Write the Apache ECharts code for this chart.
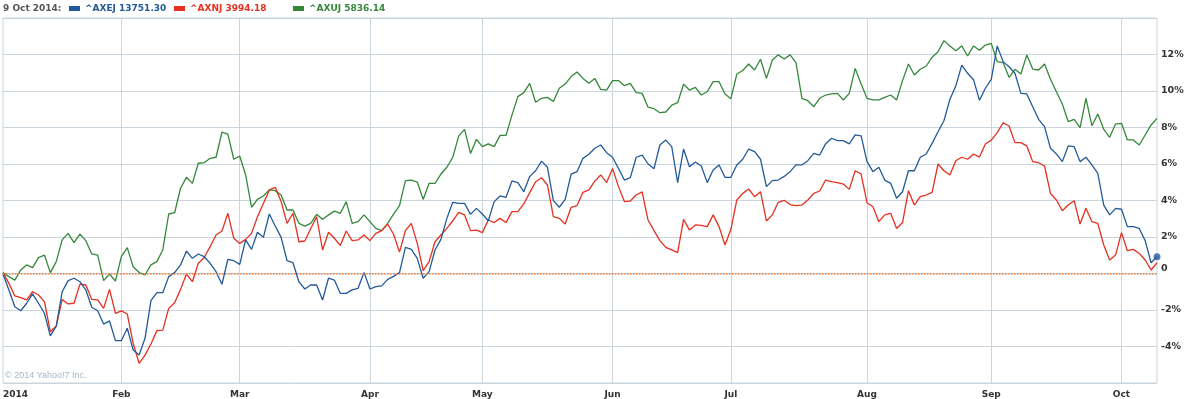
<!DOCTYPE html>
<html>
<head>
<meta charset="utf-8">
<script src="https://cdn.jsdelivr.net/npm/echarts@6/dist/echarts.min.js"></script>
<style>html,body{margin:0;padding:0;background:#fff}#c{width:1187px;height:399px}</style>
</head>
<body>
<div id="c"></div>
<script>
// Trading-day index of the first session of each month, and its label
const monthStart = [0, 20, 40, 62, 81, 103, 123, 146, 167, 189];
const monthLabels = ['2014', 'Feb', 'Mar', 'Apr', 'May', 'Jun', 'Jul', 'Aug', 'Sep', 'Oct'];
const yTicks = [-6, -4, -2, 0, 2, 4, 6, 8, 10, 12, 14];

const seriesNames = ['^AXEJ', '^AXNJ', '^AXUJ'];
const legendValues = ['13751.30', '3994.18', '5836.14'];
const legendDate = '9 Oct 2014:';

// % change since start of 2014
const axej = [-0.03,-0.90,-1.82,-2.04,-1.63,-1.12,-1.63,-2.18,-3.42,-2.88,-1.0,-0.39,-0.26,-0.45,-0.90,-1.85,-2.04,-2.77,-2.6,-3.68,
-3.68,-3.0,-4.19,-4.47,-3.55,-1.49,-1.05,-1.05,-0.17,0.05,0.47,1.23,0.83,1.07,0.92,0.56,0.10,-0.59,0.78,0.70,
0.50,1.84,1.32,2.26,1.98,3.26,2.60,1.98,0.70,0.59,-0.45,-0.85,-0.63,-0.63,-1.45,-0.26,-0.36,-1.09,-1.09,-0.90,
-0.81,0.06,-0.85,-0.72,-0.68,-0.32,-0.16,0.05,1.43,1.32,0.83,-0.26,0.10,1.29,1.87,3.02,3.90,3.84,3.84,3.24,
3.57,3.26,2.89,3.94,4.25,4.17,5.07,4.98,4.48,5.31,5.63,6.16,5.82,3.99,3.63,4.06,5.45,5.58,6.31,6.53,
6.86,7.04,6.62,6.37,5.76,5.12,5.25,6.37,6.49,6.00,5.74,7.04,7.31,6.95,4.98,6.82,5.85,6.11,5.89,4.98,
5.67,5.95,5.27,5.27,5.95,6.26,6.82,6.68,6.26,4.76,5.09,5.12,5.32,5.58,5.95,5.95,6.18,6.58,6.49,7.10,
7.41,7.28,7.28,7.10,7.59,7.54,6.13,5.58,5.82,5.12,4.94,4.12,4.48,5.63,5.63,6.37,6.55,7.13,7.77,8.37,
9.54,10.27,11.42,10.97,10.62,9.49,10.15,10.64,12.47,11.61,11.33,10.97,9.87,9.84,9.14,8.45,8.05,6.86,6.55,6.13,
6.99,6.95,6.13,6.37,5.95,5.49,3.75,3.21,3.57,3.52,2.57,2.57,2.47,1.80,0.59,0.92];

const axnj = [0.05,-0.54,-1.23,-1.32,-1.45,-1.0,-1.18,-1.54,-3.19,-2.88,-1.42,-1.67,-1.63,-0.58,-0.63,-1.42,-1.45,-1.91,-0.87,-2.18,
-2.05,-2.22,-3.83,-4.92,-4.47,-3.86,-3.13,-3.1,-1.91,-1.60,-0.87,-0.03,-0.45,0.56,0.88,1.47,2.11,2.33,3.30,1.93,
1.65,1.87,2.20,3.11,3.84,4.58,4.72,3.94,2.75,3.30,1.74,1.78,2.47,3.11,1.29,2.26,1.93,1.53,2.33,1.80,
1.84,2.11,1.80,2.20,2.35,2.71,2.15,1.17,2.35,2.75,1.65,0.16,0.65,1.74,2.11,2.47,2.89,3.35,3.21,2.35,
2.38,2.24,2.93,2.79,3.02,2.79,3.39,3.39,3.81,4.43,5.03,5.25,4.85,3.11,3.02,2.71,3.63,3.72,4.45,4.58,
5.06,5.40,4.98,5.76,4.76,3.94,3.97,4.30,4.47,2.93,2.35,1.80,1.43,1.29,1.14,2.97,2.38,2.66,2.64,2.57,
3.21,2.57,1.56,2.42,4.03,4.39,4.63,4.21,4.48,2.88,3.21,3.90,4.01,3.78,3.72,3.75,4.03,4.39,4.52,5.12,
5.03,4.98,4.90,4.61,5.63,5.45,3.88,3.66,2.84,3.21,3.30,2.47,2.79,4.54,3.75,4.21,4.30,4.45,6.00,5.63,
5.40,6.18,6.37,6.26,6.55,6.38,7.10,7.31,7.72,8.26,8.08,7.17,7.17,6.99,6.13,6.07,5.89,4.39,4.03,3.44,
3.75,3.99,2.71,3.57,2.84,2.75,1.56,0.74,1.01,2.24,1.25,1.32,1.10,0.74,0.19,0.59];

const axuj = [0.05,-0.17,-0.36,0.19,0.47,0.32,0.87,1.01,0.05,0.65,1.84,2.2,1.69,2.16,1.8,1.07,1.01,-0.39,-0.03,-0.41,
0.92,1.42,0.37,0.05,-0.08,0.47,0.65,1.29,3.26,3.33,4.67,5.27,4.94,6.04,6.07,6.31,6.37,7.74,7.64,6.26,
6.44,5.4,3.63,4.06,4.25,4.58,4.54,4.30,3.48,3.48,2.75,2.6,2.75,3.24,2.97,3.21,3.42,3.30,3.94,2.75,
2.84,3.21,2.84,2.47,2.35,2.75,3.25,3.72,5.09,5.12,5.01,4.06,4.94,4.94,5.45,5.82,6.36,7.53,7.90,6.58,
7.35,6.95,7.10,6.95,7.57,7.57,8.68,9.69,9.91,10.42,9.38,9.60,9.65,9.42,10.15,10.38,10.79,11.04,10.69,10.42,
10.69,10.09,10.05,10.57,10.57,10.29,10.42,9.91,9.87,9.11,9.03,8.81,8.85,9.23,9.36,10.37,10.05,10.20,9.78,9.96,
10.51,10.51,9.84,9.58,10.93,11.12,11.48,11.15,11.74,10.69,11.70,11.98,11.75,11.98,11.55,9.60,9.47,9.14,9.60,9.78,
9.84,9.87,9.51,9.87,11.24,10.38,9.60,9.51,9.51,9.65,9.78,9.51,10.57,11.48,10.88,11.19,11.37,11.85,12.15,12.76,
12.47,12.21,12.47,11.92,12.47,12.23,12.52,12.61,11.61,11.55,10.75,11.19,10.93,11.97,11.20,11.15,11.48,10.64,9.96,9.29,
8.32,8.45,7.99,9.60,8.10,8.74,7.90,7.46,8.19,8.23,7.32,7.32,7.04,7.59,8.14,8.50];

const N = axej.length;
const categories = axej.map((_, i) => 'd' + i);

const colors = { blue: '#245a98', red: '#e5301f', green: '#35883a' };
const seriesColors = [colors.blue, colors.red, colors.green];
const FONT = 'DejaVu Sans';

function legendFor(i, left) {
  return {
    left: left, top: 4, orient: 'horizontal', icon: 'rect',
    itemWidth: 11, itemHeight: 5, padding: 0,
    data: [{ name: seriesNames[i], textStyle: { color: seriesColors[i] } }],
    formatter: (name) => name + ' ' + legendValues[seriesNames.indexOf(name)],
    textStyle: { fontFamily: FONT, fontWeight: 'bold', fontSize: 9 },
    selectedMode: false
  };
}

const chart = echarts.init(document.getElementById('c'), null, { renderer: 'canvas' });
chart.setOption({
  animation: false,
  backgroundColor: '#fff',
  grid: { left: 1, right: 30, top: 18, bottom: 16, show: true, borderColor: '#cbd5de', borderWidth: 1 },
  legend: [legendFor(0, 69), legendFor(1, 174), legendFor(2, 293)],
  graphic: [
    { type: 'text', left: 3, top: 4, style: { text: legendDate, fill: '#555', font: 'bold 9px "' + FONT + '"' } },
    { type: 'text', left: 5, top: 371, style: { text: '\u00a9 2014 Yahoo!7 Inc.', fill: '#a8b7c6', font: '9px "Liberation Sans"' } }
  ],
  xAxis: {
    type: 'category', data: categories, boundaryGap: false,
    axisLine: { show: true, lineStyle: { color: '#bcc8d3', width: 1 } },
    axisTick: { show: false },
    splitLine: { show: true, interval: (idx) => monthStart.indexOf(idx) > 0, lineStyle: { color: '#cbd5de', width: 1 } },
    axisLabel: {
      interval: (idx) => monthStart.indexOf(idx) >= 0,
      formatter: (v, idx) => { const k = monthStart.indexOf(idx); return k >= 0 ? monthLabels[k] : ''; },
      alignMinLabel: 'left',
      margin: 7, color: '#333', fontFamily: FONT, fontWeight: 'bold', fontSize: 9
    }
  },
  yAxis: {
    type: 'value', position: 'right', min: yTicks[0], max: yTicks[yTicks.length - 1], interval: 2,
    axisLine: { show: false }, axisTick: { show: false },
    splitLine: { show: true, lineStyle: { color: '#cbd5de', width: 1 } },
    axisLabel: {
      margin: 4, color: '#333', fontFamily: FONT, fontWeight: 'bold', fontSize: 9.5,
      showMinLabel: false, showMaxLabel: false,
      formatter: (v) => v === 0 ? '{z|0}' : v + '%',
      rich: { z: { color: '#333', fontFamily: FONT, fontWeight: 'bold', fontSize: 9.5, padding: [0, 0, 10, 0] } }
    }
  },
  series: [
    {
      name: seriesNames[2], type: 'line', data: axuj, showSymbol: false, symbol: 'none',
      lineStyle: { color: colors.green, width: 1.3 }, itemStyle: { color: colors.green }
    },
    {
      name: seriesNames[1], type: 'line', data: axnj, showSymbol: false, symbol: 'none',
      lineStyle: { color: colors.red, width: 1.3 }, itemStyle: { color: colors.red },
      markLine: {
        silent: true, symbol: ['none', 'none'], label: { show: false },
        lineStyle: { color: '#f4843c', type: 'dotted', width: 1.5 },
        data: [{ yAxis: 0 }]
      }
    },
    {
      name: seriesNames[0], type: 'line', data: axej, showSymbol: false, symbol: 'none',
      lineStyle: { color: colors.blue, width: 1.3 }, itemStyle: { color: colors.blue }
    },
    {
      type: 'scatter', data: [[N - 1, axej[N - 1]]], symbolSize: 7,
      itemStyle: { color: colors.blue }, silent: true
    }
  ]
});
</script>
</body>
</html>
